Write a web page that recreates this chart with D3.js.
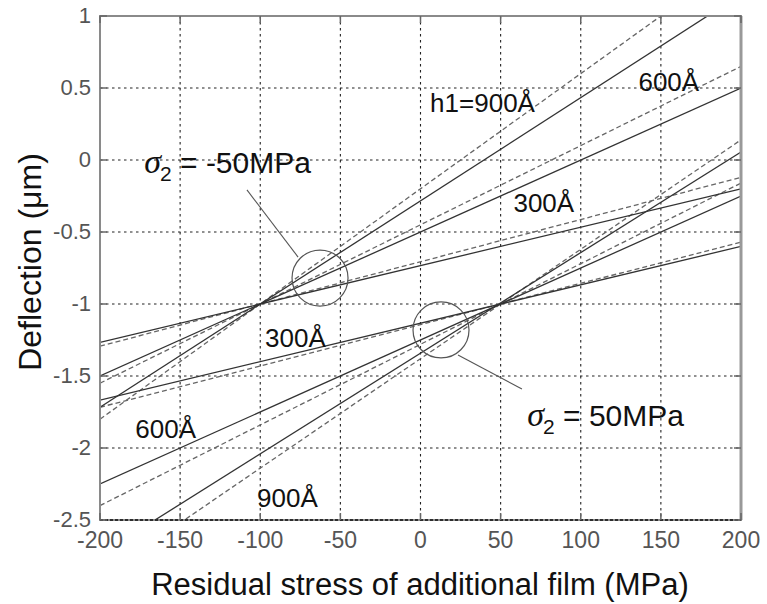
<!DOCTYPE html>
<html>
<head>
<meta charset="utf-8">
<script src="https://cdn.jsdelivr.net/npm/d3@7"></script>
<style>
  html, body { margin: 0; padding: 0; background: #fff; }
  svg { display: block; font-family: "Liberation Sans", Arial, sans-serif; }
</style>
</head>
<body>
<svg id="chart" width="767" height="604"></svg>
<script>
// Axis ticks
const xTicks = [-200, -150, -100, -50, 0, 50, 100, 150, 200];
const yTicks = [-2.5, -2, -1.5, -1, -0.5, 0, 0.5, 1];

// Stress values at which each line is evaluated (MPa)
const stressEnds = [-200, 200];

// Deflection (um) at stress = -200 and 200 for each film thickness.
// sigma2 = -50 MPa family (lines pivot at -100 MPa, -1 um)
const s2neg_300_solid  = [-1.267, -0.20];
const s2neg_300_dashed = [-1.293, -0.12];
const s2neg_600_solid  = [-1.50, 0.50];
const s2neg_600_dashed = [-1.55, 0.65];
const s2neg_900_solid  = [-1.717, 1.15];
const s2neg_900_dashed = [-1.80, 1.40];
// sigma2 = 50 MPa family (lines pivot at 50 MPa, -1 um)
const s2pos_300_solid  = [-1.667, -0.60];
const s2pos_300_dashed = [-1.717, -0.57];
const s2pos_600_solid  = [-2.25, -0.25];
const s2pos_600_dashed = [-2.40, -0.16];
const s2pos_900_solid  = [-2.74, 0.056];
const s2pos_900_dashed = [-2.90, 0.14];

const solidSeries = [s2neg_300_solid, s2neg_600_solid, s2neg_900_solid,
                     s2pos_300_solid, s2pos_600_solid, s2pos_900_solid];
const dashedSeries = [s2neg_300_dashed, s2neg_600_dashed, s2neg_900_dashed,
                      s2pos_300_dashed, s2pos_600_dashed, s2pos_900_dashed];

// Thickness labels: [text, stress, deflection]
const thicknessLabels = [
  ["h1=900Å", 6, 0.333],
  ["600Å", 136, 0.48],
  ["300Å", 58, -0.36],
  ["300Å", -97, -1.30],
  ["600Å", -178, -1.93],
  ["900Å", -102, -2.41]
];

// Circled crossing regions: [stress, deflection]
const circles = [[-62.7, -0.82], [12.8, -1.18]];
// Leader lines from the sigma2 labels to the circles: [[s1,d1],[s2,d2]]
const leaders = [
  [[-108.3, -0.208], [-76.4, -0.674]],
  [[23.4, -1.354], [63.3, -1.59]]
];
// sigma2 labels: [value text, stress, deflection]
const sigmaLabels = [
  [" = -50MPa", -172.4, -0.09],
  [" = 50MPa", 66.6, -1.847]
];

const svg = d3.select("#chart");
const mLeft = 100, mRight = 741, mTop = 16, mBottom = 520;

const x = d3.scaleLinear().domain([-200, 200]).range([mLeft, mRight]);
const y = d3.scaleLinear().domain([-2.5, 1]).range([mBottom, mTop]);

// Grid
const grid = svg.append("g").attr("stroke", "#222").attr("stroke-width", 1.1)
  .attr("stroke-dasharray", "2.5,3.5");
grid.selectAll("line.v").data(xTicks.slice(1, -1)).join("line")
  .attr("class", "v")
  .attr("x1", d => x(d)).attr("x2", d => x(d))
  .attr("y1", mTop).attr("y2", mBottom);
grid.selectAll("line.h").data(yTicks.slice(1, -1)).join("line")
  .attr("class", "h")
  .attr("x1", mLeft).attr("x2", mRight)
  .attr("y1", d => y(d)).attr("y2", d => y(d));

// Clip for data lines
svg.append("clipPath").attr("id", "plotclip")
  .append("rect").attr("x", mLeft).attr("y", mTop)
  .attr("width", mRight - mLeft).attr("height", mBottom - mTop);

const line = d3.line().x((d, i) => x(stressEnds[i])).y(d => y(d));
const plot = svg.append("g").attr("clip-path", "url(#plotclip)").attr("fill", "none");

plot.selectAll("path.dashed").data(dashedSeries).join("path")
  .attr("class", "dashed")
  .attr("d", line)
  .attr("stroke", "#666").attr("stroke-width", 1.3)
  .attr("stroke-dasharray", "5,3");

plot.selectAll("path.solid").data(solidSeries).join("path")
  .attr("class", "solid")
  .attr("d", line)
  .attr("stroke", "#333").attr("stroke-width", 1.3);

// Frame
svg.append("rect").attr("x", mLeft).attr("y", mTop)
  .attr("width", mRight - mLeft).attr("height", mBottom - mTop)
  .attr("fill", "none").attr("stroke", "#8a8a8a").attr("stroke-width", 2);
svg.append("line").attr("x1", mRight).attr("x2", mRight)
  .attr("y1", mTop).attr("y2", mBottom)
  .attr("stroke", "#999").attr("stroke-width", 3);
svg.append("line").attr("x1", mLeft).attr("x2", mRight)
  .attr("y1", mBottom).attr("y2", mBottom)
  .attr("stroke", "#111").attr("stroke-width", 1.5).attr("stroke-dasharray", "3,2");

// Inward ticks
const tickLen = 7;
const ticks = svg.append("g").attr("stroke", "#666").attr("stroke-width", 1.5);
xTicks.forEach(t => {
  ticks.append("line").attr("x1", x(t)).attr("x2", x(t)).attr("y1", mBottom).attr("y2", mBottom - tickLen);
  ticks.append("line").attr("x1", x(t)).attr("x2", x(t)).attr("y1", mTop).attr("y2", mTop + tickLen);
});
yTicks.forEach(t => {
  ticks.append("line").attr("x1", mLeft).attr("x2", mLeft + tickLen).attr("y1", y(t)).attr("y2", y(t));
  ticks.append("line").attr("x1", mRight).attr("x2", mRight - tickLen).attr("y1", y(t)).attr("y2", y(t));
});

// Tick labels
svg.append("g").selectAll("text").data(xTicks).join("text")
  .attr("x", d => x(d)).attr("y", 548)
  .attr("text-anchor", "middle").attr("font-size", 23).attr("fill", "#555")
  .text(d => d);
svg.append("g").selectAll("text").data(yTicks).join("text")
  .attr("x", 91).attr("y", d => y(d) + 7)
  .attr("text-anchor", "end").attr("font-size", 22).attr("fill", "#555")
  .text(d => d);

// Axis titles
svg.append("text").attr("x", 420).attr("y", 595)
  .attr("text-anchor", "middle").attr("font-size", 31).attr("fill", "#111")
  .text("Residual stress of additional film (MPa)");
svg.append("text")
  .attr("transform", "translate(41,262) rotate(-90)")
  .attr("text-anchor", "middle").attr("font-size", 32).attr("fill", "#111")
  .text("Deflection (μm)");

// Circles and leader lines
svg.append("g").selectAll("circle").data(circles).join("circle")
  .attr("cx", d => x(d[0])).attr("cy", d => y(d[1])).attr("r", 28)
  .attr("fill", "none").attr("stroke", "#555").attr("stroke-width", 1.2);
svg.append("g").selectAll("line").data(leaders).join("line")
  .attr("x1", d => x(d[0][0])).attr("y1", d => y(d[0][1]))
  .attr("x2", d => x(d[1][0])).attr("y2", d => y(d[1][1]))
  .attr("stroke", "#555").attr("stroke-width", 1.1);

// Thickness labels
svg.append("g").selectAll("text").data(thicknessLabels).join("text")
  .attr("x", d => x(d[1])).attr("y", d => y(d[2]))
  .attr("font-size", 26).attr("fill", "#111")
  .text(d => d[0]);

// sigma2 labels
const sg = svg.append("g").selectAll("text").data(sigmaLabels).join("text")
  .attr("x", d => x(d[1])).attr("y", d => y(d[2]))
  .attr("font-size", 30).attr("fill", "#111");
sg.append("tspan").attr("font-family", "'Liberation Serif', serif")
  .attr("font-style", "italic").attr("font-size", 34).text("σ");
sg.append("tspan").attr("font-size", 21).attr("dy", 8).attr("dx", -1).text("2");
sg.append("tspan").attr("dy", -8).text(d => d[0]);
</script>
</body>
</html>
